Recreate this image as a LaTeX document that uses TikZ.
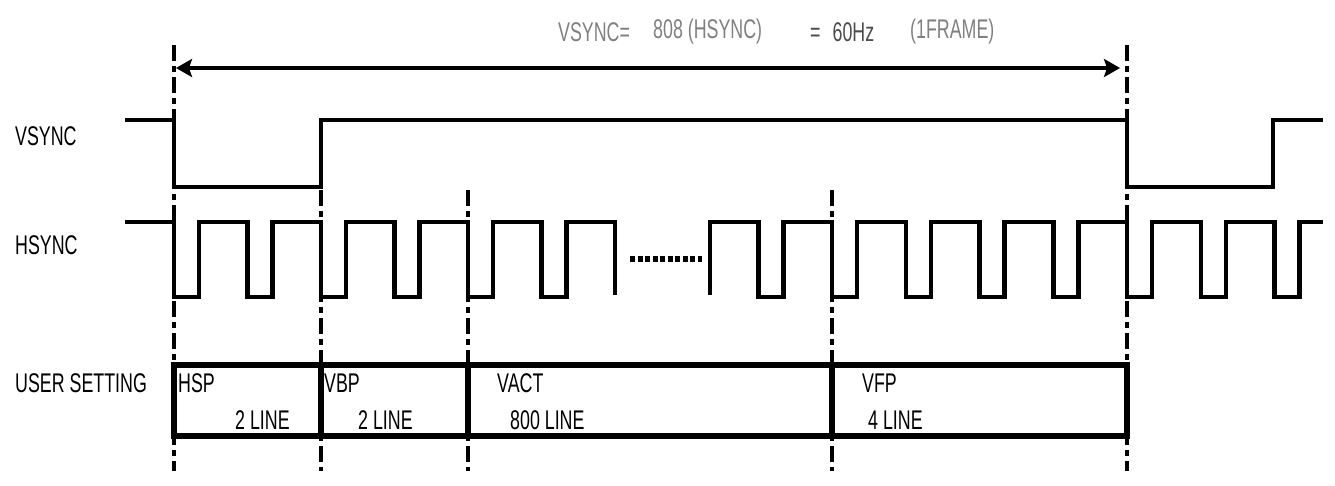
\documentclass[tikz,border=0pt]{standalone}
\usepackage{fontspec}
\setmainfont{Liberation Sans}[FakeStretch=0.66]
\usepackage{xcolor}
\usetikzlibrary{arrows.meta}

\begin{document}
\begin{tikzpicture}[x=1pt,y=-1pt,
		lbl/.style={inner sep=0pt,font=\fontsize{27}{30}\selectfont},
		toplbl/.style={lbl,text=labelgray},
		wave/.style={line width=4.5pt},
		boxline/.style={line width=5.5pt},
		marker/.style={line width=4pt,dash pattern=on 16pt off 5pt on 6pt off 5pt}]
		%COLORES
		\definecolor{labelgray}{gray}{0.5}
		\definecolor{labeldark}{gray}{0.3}
		\useasboundingbox (0,0) rectangle (1335,485);

		%TITULO
		\node[toplbl,anchor=west] (ttlv) at (558,32) {VSYNC=};
		\node[toplbl,anchor=west] (ttlh) at (653,32) {808 (HSYNC)};
		\node[toplbl,anchor=west,text=labeldark] (ttlhz) at (810,32) {=\hspace{12pt}60Hz};
		\node[toplbl,anchor=west] (ttlf) at (910,32) {(1FRAME)};

		%ETIQUETAS
		\node[lbl,anchor=west] (vsync) at (15,136) {VSYNC};
		\node[lbl,anchor=west] (hsync) at (15,245) {HSYNC};
		\node[lbl,anchor=west] (user) at (15,383) {USER SETTING};

		%MARCAS
		\foreach \x/\y in {174/45,321/190,468/190,832/190,1127/45}{
			\coordinate (top\x) at (\x,\y);
			\coordinate (bot\x) at (\x,471);
			\draw[marker] (top\x) -- (bot\x);
		}

		%FLECHA
		\coordinate (fa) at (176,68);
		\coordinate (fb) at (1120,68);
		\draw[line width=3.5pt,{Stealth[length=16pt,width=18pt,inset=3pt]}-{Stealth[length=16pt,width=18pt,inset=3pt]}] (fa) -- (fb);

		%VSYNC
		\draw[wave] (125,120) -- (174,120) -- (174,187) -- (321,187) -- (321,120)
			-- (1127,120) -- (1127,187) -- (1273,187) -- (1273,120) -- (1323,120);

		%HSYNC
		\draw[wave] (125,222) foreach \p in {174,247.5,321,394.5,468,541.5}{
			-- (\p,222) -- (\p,297) -- (\p+25,297) -- (\p+25,222)} -- (615,222) -- (615,295);
		\draw[wave] (710,295) -- (710,222) -- (758.5,222) -- (758.5,297) -- (783.5,297) -- (783.5,222)
			foreach \p in {832,905.75,979.5,1053.25,1127,1200.75,1274.5}{
			-- (\p,222) -- (\p,297) -- (\p+25,297) -- (\p+25,222)} -- (1323,222);
		\draw[line width=6pt,dash pattern=on 5pt off 2.5pt] (630,259) -- (702,259);

		%USER SETTING
		\draw[boxline] (174,365) -- (1127,365);
		\draw[boxline] (174,436) -- (1127,436);
		\foreach \x in {174,321,468,832,1127}{
			\draw[boxline] (\x,362.25) -- (\x,438.75);
		}
		\node[lbl,anchor=west] (hsp) at (178,383) {HSP};
		\node[lbl,anchor=west] (hspn) at (235,420) {2 LINE};
		\node[lbl,anchor=west] (vbp) at (324,383) {VBP};
		\node[lbl,anchor=west] (vbpn) at (358,420) {2 LINE};
		\node[lbl,anchor=west] (vact) at (497,383) {VACT};
		\node[lbl,anchor=west] (vactn) at (510,420) {800 LINE};
		\node[lbl,anchor=west] (vfp) at (862,383) {VFP};
		\node[lbl,anchor=west] (vfpn) at (868,420) {4 LINE};
	\end{tikzpicture}
\end{document}
